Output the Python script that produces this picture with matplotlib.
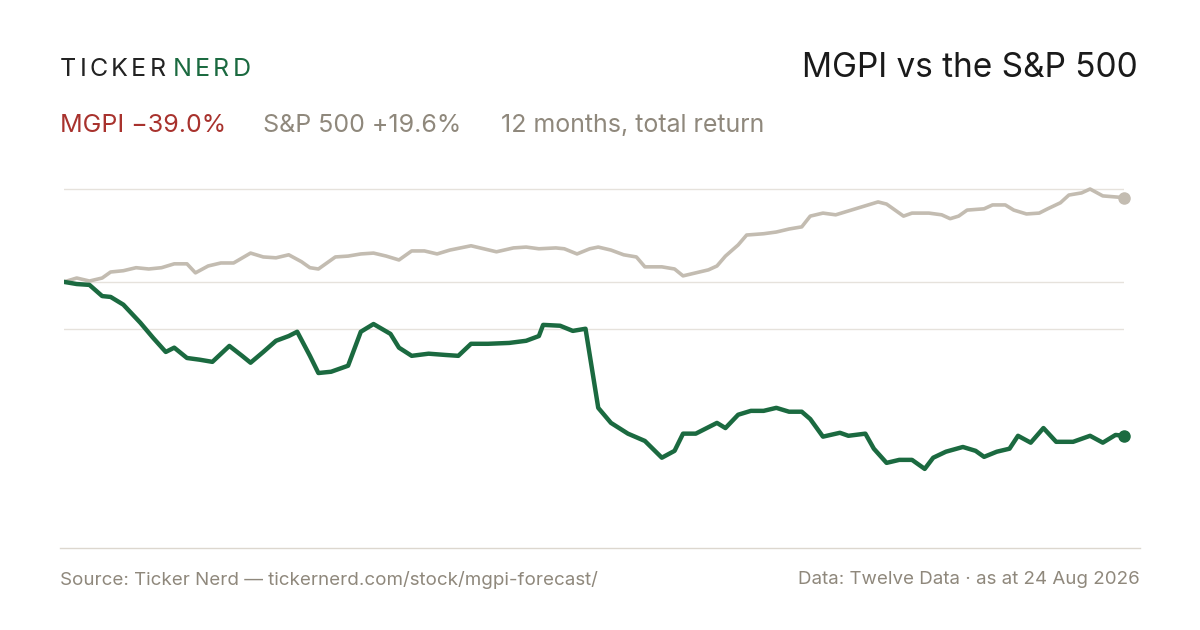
import matplotlib.pyplot as plt
from matplotlib.lines import Line2D

plt.rcParams['font.family'] = ['Inter', 'DejaVu Sans']

# trading-day index and % return (12 months)
sp_x = [0, 3, 6, 9, 11, 14, 17, 20, 23, 26, 29, 31, 34, 37, 40, 44, 47, 50, 53, 56, 58, 60, 64, 67, 70, 73, 76, 79,
        82, 85, 88, 91, 96, 99, 102, 106, 109, 112, 116, 118, 121, 124, 126, 129, 132, 135, 137, 141, 144, 146, 149,
        152, 154, 156, 159, 161, 165, 168, 171, 174, 176, 179, 182, 185, 188, 192, 194, 198, 200, 204, 207, 209, 211,
        213, 217, 219, 222, 224, 227, 230, 232, 235, 237, 240, 242, 245, 250]
sp_y = [0, 0.9, 0.2, 0.9, 2.3, 2.6, 3.3, 3.0, 3.3, 4.2, 4.2, 2.1, 3.7, 4.4, 4.4, 6.7, 5.8, 5.6, 6.3, 4.7, 3.3, 3.0,
        5.8, 6.0, 6.5, 6.7, 6.0, 5.1, 7.2, 7.2, 6.5, 7.4, 8.4, 7.7, 7.0, 7.9, 8.1, 7.7, 7.9, 7.7, 6.5, 7.7, 8.1, 7.4,
        6.3, 5.8, 3.5, 3.5, 3.0, 1.4, 2.1, 2.8, 3.7, 6.0, 8.6, 10.9, 11.2, 11.6, 12.3, 12.8, 15.3, 16.0, 15.6, 16.5,
        17.4, 18.6, 18.1, 15.3, 16.0, 16.0, 15.6, 14.7, 15.3, 16.7, 17.0, 17.9, 17.9, 16.7, 15.8, 16.0, 17.0, 18.4,
        20.2, 20.7, 21.6, 20.0, 19.6]

mg_x = [0, 3, 6, 9, 11, 14, 18, 21, 24, 26, 29, 32, 35, 39, 42, 44, 47, 50, 53, 55, 58, 60, 63, 67, 70, 73, 77, 79,
        82, 86, 90, 93, 96, 100, 105, 109, 112, 113, 117, 120, 123, 126, 129, 133, 137, 141, 144, 146, 149, 154, 156,
        159, 162, 165, 168, 171, 174, 176, 179, 183, 185, 189, 191, 194, 197, 200, 203, 205, 208, 212, 215, 217, 220,
        223, 225, 228, 231, 234, 238, 242, 245, 248, 250]
mg_y = [0, -0.5, -0.7, -3.3, -3.5, -5.3, -9.5, -13.0, -16.3, -15.3, -17.7, -18.1, -18.6, -14.9, -17.2, -18.8, -16.3,
        -13.7, -12.6, -11.6, -17.2, -21.2, -20.9, -19.5, -11.6, -9.8, -12.1, -15.3, -17.2, -16.7, -17.0, -17.2, -14.4,
        -14.4, -14.2, -13.7, -12.6, -10.0, -10.2, -11.4, -10.9, -29.3, -32.8, -35.3, -37.0, -40.9, -39.3, -35.3,
        -35.3, -32.8, -34.0, -30.9, -30.0, -30.0, -29.3, -30.2, -30.2, -31.9, -36.0, -35.1, -35.8, -35.3, -38.8,
        -42.1, -41.4, -41.4, -43.5, -40.9, -39.5, -38.4, -39.3, -40.7, -39.5, -38.8, -35.8, -37.4, -34.0, -37.2,
        -37.2, -35.8, -37.4, -35.6, -35.8]
grid_vals = [21.6, 0, -10.9]

GREEN = '#1b6a40'
SPC = '#c3bcb1'
GREY = '#8f887c'
RED = '#a8322d'

fig = plt.figure(figsize=(12, 6.3), dpi=100)
ax = fig.add_axes([64 / 1200, 82 / 630, 1060 / 1200, 368 / 630])
for g in grid_vals:
    ax.axhline(g, color='#e6e2dc', lw=1, zorder=0)
ax.plot(sp_x, sp_y, color=SPC, lw=2.6, solid_joinstyle='round')
ax.plot(sp_x[-1], sp_y[-1], 'o', color=SPC, ms=8, clip_on=False)
ax.plot(mg_x, mg_y, color=GREEN, lw=3.2, solid_joinstyle='round')
ax.plot(mg_x[-1], mg_y[-1], 'o', color=GREEN, ms=8, clip_on=False)
ax.set_xlim(0, 250)
ax.set_ylim(-61.9, 23.7)
ax.axis('off')

fig.add_artist(Line2D([60 / 1200, 1140 / 1200], [82 / 630, 82 / 630], color='#dcd7cf', lw=1))

# logo with letter spacing
x0 = 60
for word, col in [('TICKER', '#222222'), ('NERD', GREEN)]:
    for ch in word:
        t = fig.text(x0 / 1200, 1 - 70 / 630, ch, fontsize=18, color=col, va='center')
        w = t.get_window_extent(renderer=fig.canvas.get_renderer()).width
        x0 += w + 3.2
    x0 += 4

fig.text(1138 / 1200, 1 - 68 / 630, 'MGPI vs the S&P 500', fontsize=24, color='#1a1a1a', ha='right', va='center')

fig.text(60 / 1200, 1 - 125 / 630, 'MGPI \u221239.0%', fontsize=18, color=RED, va='center')
fig.text(263 / 1200, 1 - 125 / 630, 'S&P 500 +19.6%', fontsize=18, color=GREY, va='center')
fig.text(501 / 1200, 1 - 125 / 630, '12 months, total return', fontsize=18, color=GREY, va='center')

fig.text(60 / 1200, 1 - 580 / 630, 'Source: Ticker Nerd \u2014 tickernerd.com/stock/mgpi-forecast/',
         fontsize=13.5, color=GREY, va='center')
fig.text(1140 / 1200, 1 - 580 / 630, 'Data: Twelve Data \u00b7 as at 24 Aug 2026',
         fontsize=13.5, color=GREY, va='center', ha='right')

fig.savefig('out.png', dpi=100, facecolor='white')
